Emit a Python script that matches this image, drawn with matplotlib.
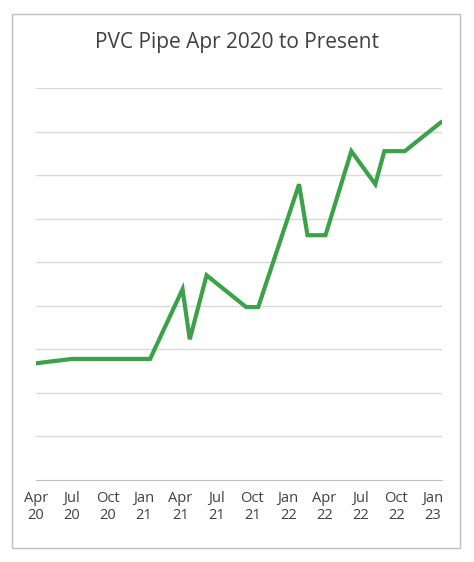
import matplotlib.pyplot as plt
from matplotlib.patches import Rectangle

plt.rcParams['font.family'] = ['Open Sans', 'DejaVu Sans']

# months since Apr 2020, and price index (gridline units)
months = [0, 3, 9.5, 12.2, 12.8, 14.2, 17.5, 18.5, 21.9, 22.6, 24.1, 26.25, 28.25, 29, 30.7, 33.7]
values = [2.68, 2.78, 2.78, 4.38, 3.23, 4.70, 3.97, 3.97, 6.79, 5.62, 5.62, 7.55, 6.79, 7.55, 7.55, 8.21]

tick_pos = list(range(0, 34, 3))
tick_labels = ["Apr\n20", "Jul\n20", "Oct\n20", "Jan\n21", "Apr\n21", "Jul\n21",
               "Oct\n21", "Jan\n22", "Apr\n22", "Jul\n22", "Oct\n22", "Jan\n23"]

fig = plt.figure(figsize=(4.74, 5.62), dpi=100)
fig.patches.append(Rectangle((12/474, 14/562), 448/474, 534/562, transform=fig.transFigure,
                             fill=False, edgecolor="#bfbfbf", linewidth=1))
ax = fig.add_axes([36/474, 82/562, 406/474, 392/562])
ax.plot(months, values, color="#3ba24a", linewidth=3, solid_joinstyle="miter")
ax.set_xlim(0, 33.8)
ax.set_ylim(0, 9)
ax.set_yticks(range(1, 10))
ax.yaxis.grid(True, color="#d9d9d9", linewidth=1)
ax.tick_params(axis="y", left=False, labelleft=False)
ax.set_xticks(tick_pos)
ax.set_xticklabels(tick_labels, fontsize=10.5, color="#404040")
ax.tick_params(axis="x", length=0, pad=8)
for s in ["top", "right", "left"]:
    ax.spines[s].set_visible(False)
ax.spines["bottom"].set_color("#bfbfbf")
fig.text(0.5, 0.915, "PVC Pipe Apr 2020 to Present", ha="center", fontsize=15, color="#404040")
fig.savefig("out.png")
